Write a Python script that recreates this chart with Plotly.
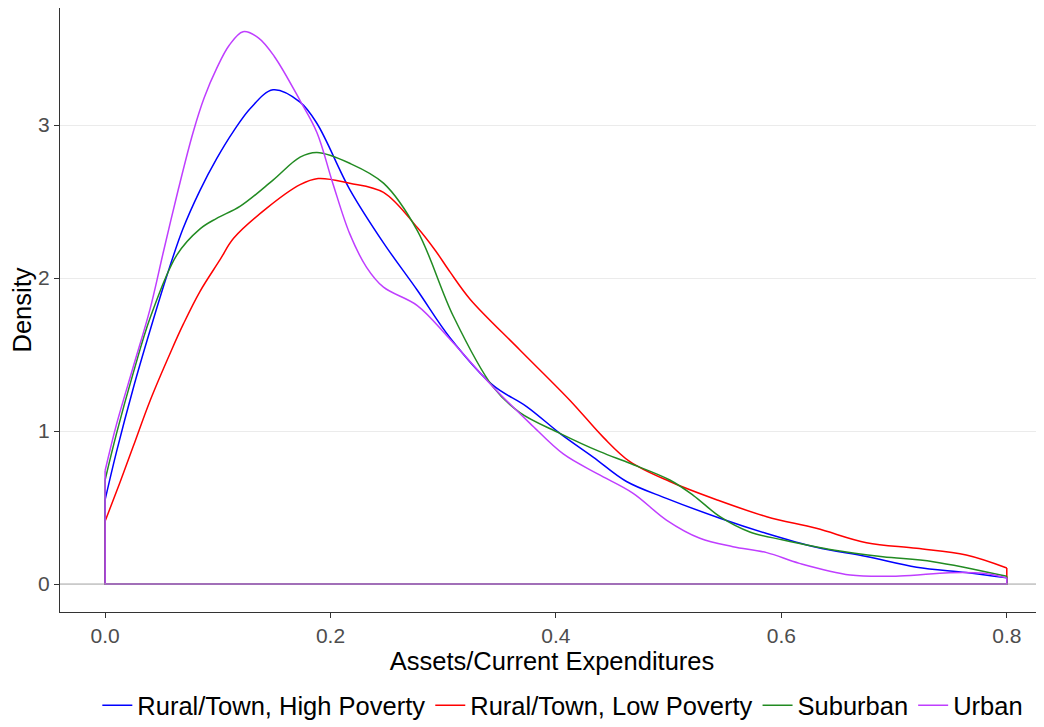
import plotly.graph_objects as go

# Density curves (x = assets / current expenditures)
high_pov_x = [0.0, 0.01, 0.025, 0.04, 0.055, 0.069, 0.084, 0.099, 0.114, 0.129, 0.149, 0.173,
              0.188, 0.217, 0.247, 0.277, 0.306, 0.344, 0.374, 0.4035, 0.433, 0.4626, 0.498,
              0.5455, 0.587, 0.631, 0.6755, 0.72, 0.764, 0.8]
high_pov_y = [0.55, 0.86, 1.28, 1.66, 2.02, 2.32, 2.57, 2.78, 2.96, 3.11, 3.23, 3.15,
              3.01, 2.58, 2.23, 1.92, 1.61, 1.30, 1.16, 0.985, 0.83, 0.67, 0.56,
              0.43, 0.33, 0.24, 0.18, 0.11, 0.075, 0.04]

low_pov_x = [0.0, 0.013, 0.025, 0.04, 0.059, 0.0695, 0.084, 0.102, 0.114, 0.144, 0.173, 0.189,
             0.217, 0.247, 0.277, 0.293, 0.306, 0.324, 0.368, 0.4125, 0.4419, 0.4656, 0.501,
             0.5425, 0.587, 0.631, 0.6755, 0.72, 0.764, 0.8]
low_pov_y = [0.41, 0.66, 0.90, 1.20, 1.53, 1.70, 1.91, 2.12, 2.26, 2.46, 2.61, 2.65,
             2.62, 2.56, 2.33, 2.18, 2.04, 1.86, 1.53, 1.20, 0.96, 0.80, 0.67,
             0.551, 0.44, 0.364, 0.27, 0.233, 0.19, 0.105]

suburban_x = [0.0, 0.01, 0.025, 0.04, 0.0636, 0.084, 0.099, 0.12, 0.149, 0.173, 0.188, 0.217,
              0.247, 0.277, 0.309, 0.344, 0.368, 0.4035, 0.439, 0.4656, 0.501, 0.5218,
              0.5455, 0.572, 0.6016, 0.646, 0.69, 0.7346, 0.8]
suburban_y = [0.68, 0.98, 1.38, 1.74, 2.15, 2.32, 2.39, 2.47, 2.64, 2.79, 2.82, 2.75,
              2.62, 2.31, 1.75, 1.29, 1.12, 0.985, 0.865, 0.789, 0.68, 0.58,
              0.44, 0.34, 0.288, 0.222, 0.178, 0.146, 0.05]

urban_x = [0.0, 0.01, 0.025, 0.04, 0.0517, 0.065, 0.078, 0.088, 0.099, 0.11, 0.1224, 0.136,
           0.15, 0.173, 0.188, 0.202, 0.217, 0.232, 0.247, 0.277, 0.306, 0.344, 0.377,
           0.4065, 0.437, 0.4685, 0.498, 0.5277, 0.557, 0.587, 0.616, 0.661, 0.705, 0.749,
           0.779, 0.8]
urban_y = [0.74, 1.04, 1.42, 1.80, 2.17, 2.58, 2.95, 3.18, 3.37, 3.52, 3.61, 3.57,
           3.45, 3.16, 2.95, 2.62, 2.29, 2.07, 1.94, 1.82, 1.60, 1.29, 1.05,
           0.85, 0.72, 0.593, 0.418, 0.299, 0.244, 0.205, 0.135, 0.059, 0.052, 0.074,
           0.07, 0.04]

series = [
    ("Rural/Town, High Poverty", high_pov_x, high_pov_y, "#0000FF"),
    ("Rural/Town, Low Poverty", low_pov_x, low_pov_y, "#FF0000"),
    ("Suburban", suburban_x, suburban_y, "#228B22"),
    ("Urban", urban_x, urban_y, "#BF3EFF"),
]

x_ticks = [0.0, 0.2, 0.4, 0.6, 0.8]
y_ticks = [0, 1, 2, 3]

FONT = "Liberation Sans, Arial, sans-serif"

fig = go.Figure()
for name, xs, ys, color in series:
    # smooth density outline
    fig.add_trace(go.Scatter(
        x=xs, y=ys, name=name, mode="lines", legendgroup=name,
        line=dict(color=color, width=1.5, shape="spline", smoothing=1.0),
    ))
    # closing edges of the density polygon (ends down to zero + baseline)
    fig.add_trace(go.Scatter(
        x=[xs[-1], xs[-1], xs[0], xs[0]], y=[ys[-1], 0, 0, ys[0]],
        mode="lines", legendgroup=name, showlegend=False, hoverinfo="skip",
        line=dict(color=color, width=1.5),
    ))

fig.add_hline(y=0, line=dict(color="rgba(160,160,160,0.6)", width=1.5), layer="above")

# page body has an 8px default margin, so the figure is sized to fit inside it
fig.update_layout(
    width=1036, height=719,
    margin=dict(l=52, r=0, t=0, b=115, autoexpand=False),
    paper_bgcolor="white", plot_bgcolor="white",
    font=dict(family=FONT, size=21, color="black"),
    showlegend=True,
    legend=dict(
        orientation="h", x=0.511, xanchor="center", y=-0.155, yanchor="middle",
        font=dict(size=25.5, color="black"), itemwidth=30, tracegroupgap=0,
    ),
)
fig.update_xaxes(
    range=[-0.04, 0.833], tickvals=x_ticks, tickformat=".1f", automargin=False,
    title=dict(text="Assets/Current Expenditures", font=dict(size=25.5, color="black"), standoff=0),
    showgrid=False, zeroline=False,
    showline=True, linecolor="#333333", linewidth=1.2,
    ticks="outside", ticklen=5, tickcolor="#333333",
    tickfont=dict(size=21, color="#4D4D4D"),
)
fig.update_yaxes(
    range=[-0.183, 3.765], tickvals=y_ticks, automargin=False,
    title=dict(text="Density", font=dict(size=25.5, color="black"), standoff=0),
    showgrid=True, gridcolor="#EBEBEB", gridwidth=1, zeroline=False,
    showline=True, linecolor="#333333", linewidth=1.2,
    ticks="outside", ticklen=5, tickcolor="#333333",
    tickfont=dict(size=21, color="#4D4D4D"),
)

fig.write_html("out.html")
